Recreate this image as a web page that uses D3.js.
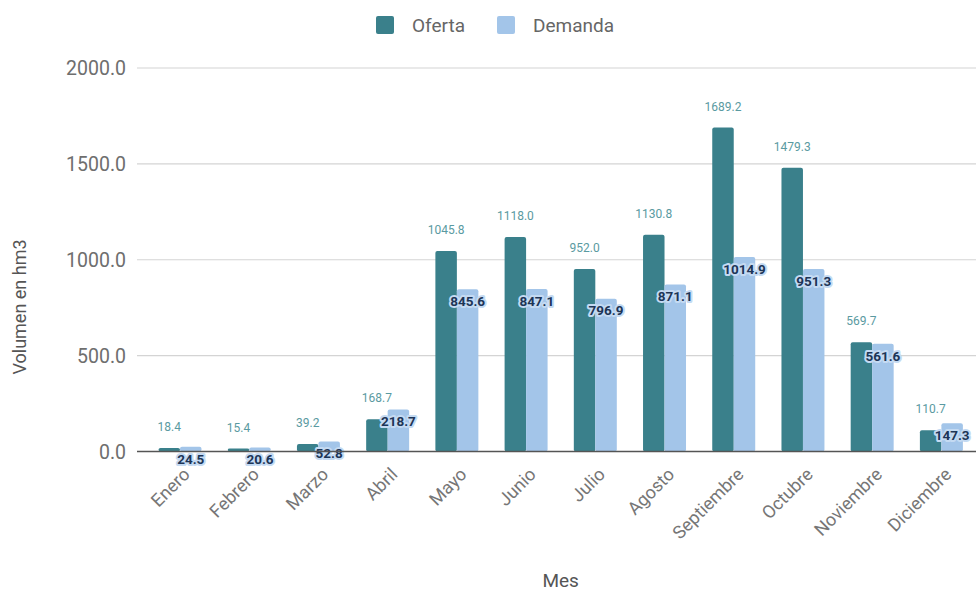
<!DOCTYPE html>
<html><head><meta charset="utf-8">
<script src="https://cdn.jsdelivr.net/npm/d3@7"></script>
<style>
html,body{margin:0;padding:0;background:#fff;}
svg{display:block;font-family:Roboto, "Noto Sans", sans-serif;}
</style></head>
<body><svg id="chart" width="976" height="592"></svg>
<script>
const months = ["Enero","Febrero","Marzo","Abril","Mayo","Junio","Julio","Agosto","Septiembre","Octubre","Noviembre","Diciembre"];
const series = ["Oferta","Demanda"];
const oferta = [18.4,15.4,39.2,168.7,1045.8,1118.0,952.0,1130.8,1689.2,1479.3,569.7,110.7];
const demanda = [24.5,20.6,52.8,218.7,845.6,847.1,796.9,871.1,1014.9,951.3,561.6,147.3];
const yTicks = [0,500,1000,1500,2000];
const colors = {Oferta:"#3a808b", Demanda:"#a3c5e9"};

const svg = d3.select("#chart");
const x0 = d3.scaleBand().domain(months).range([145.4,976]).paddingInner(0.379).paddingOuter(0.1895);
const x1 = d3.scaleBand().domain(series).range([0,x0.bandwidth()]);
const y = d3.scaleLinear().domain([0,2000]).range([451.5,68]);

// gridlines
svg.append("g").selectAll("line").data(yTicks.filter(d=>d>0)).join("line")
  .attr("x1",137).attr("x2",976).attr("y1",d=>y(d)).attr("y2",d=>y(d))
  .attr("stroke","#d4d4d4").attr("stroke-width",1.2);

// y tick labels
const yAxis = d3.axisLeft(y).tickValues(yTicks).tickFormat(d3.format(".1f")).tickSize(0).tickPadding(0);
const ya = svg.append("g").attr("transform","translate(126,0)").call(yAxis);
ya.select(".domain").remove();
ya.selectAll("text").attr("font-size",19.5).attr("fill","#6e6e6e").attr("font-family","Roboto").attr("dy","0.35em");

// bars
const rows = months.map((m,i)=>({month:m, Oferta:oferta[i], Demanda:demanda[i]}));
const g = svg.append("g");
const grp = g.selectAll("g").data(rows).join("g").attr("transform",d=>`translate(${x0(d.month)},0)`);
grp.selectAll("rect").data(d=>series.map(s=>({s, v:d[s]}))).join("rect")
  .attr("x",d=>x1(d.s)).attr("width",x1.bandwidth())
  .attr("y",d=>y(d.v)).attr("height",d=>y(0)-y(d.v))
  .attr("rx",2).attr("fill",d=>colors[d.s]);

// baseline
svg.append("line").attr("x1",137).attr("x2",976).attr("y1",y(0)).attr("y2",y(0))
  .attr("stroke","#555").attr("stroke-width",1.3);

// Oferta labels
grp.append("text").attr("x",x1("Oferta")+x1.bandwidth()/2).attr("y",d=>y(d.Oferta)-21)
  .attr("dy","0.35em").attr("text-anchor","middle").attr("font-size",12)
  .attr("fill","#5a9aa1").text(d=>d3.format(".1f")(d.Oferta));

// Demanda labels
grp.append("text").attr("x",x1("Demanda")+x1.bandwidth()/2).attr("y",d=>y(d.Demanda)+12)
  .attr("dy","0.35em").attr("text-anchor","middle").attr("font-size",13.5).attr("font-weight","bold")
  .attr("fill","#1d3557").attr("stroke","#c4daf2").attr("stroke-width",4).attr("stroke-linejoin","round")
  .attr("paint-order","stroke").text(d=>d3.format(".1f")(d.Demanda));

// month labels
const xAxis = d3.axisBottom(x0).tickSize(0).tickPadding(0);
const xa = svg.append("g").attr("transform",`translate(0,${y(0)})`).call(xAxis);
xa.select(".domain").remove();
xa.selectAll("text").attr("font-size",18).attr("fill","#767676").attr("font-family","Roboto")
  .attr("text-anchor","end").attr("dy",null)
  .attr("transform","translate(11,24) rotate(-45)");

// axis titles
svg.append("text").attr("x",(145.4+976)/2).attr("y",587).attr("text-anchor","middle")
  .attr("font-size",19).attr("fill","#555").text("Mes");
svg.append("text").attr("transform","translate(26,307) rotate(-90)").attr("text-anchor","middle")
  .attr("font-size",18).attr("fill","#555").text("Volumen en hm3");

// legend
const legend = svg.append("g");
const lx = {Oferta:376, Demanda:497};
series.forEach(s=>{
  legend.append("rect").attr("x",lx[s]).attr("y",16).attr("width",18).attr("height",18).attr("rx",2).attr("fill",colors[s]);
  legend.append("text").attr("x",lx[s]+36).attr("y",25).attr("dy","0.35em").attr("font-size",19).attr("fill","#666").text(s);
});
</script></body></html>
